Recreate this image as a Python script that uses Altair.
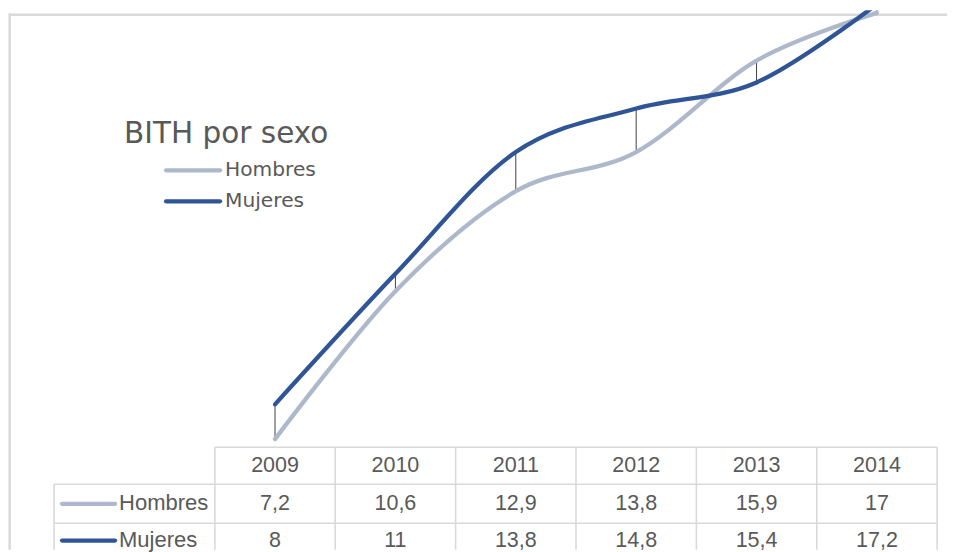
import altair as alt
import pandas as pd

# ---- data ----
years = [2009, 2010, 2011, 2012, 2013, 2014]
series = ["Hombres", "Mujeres"]
hombres = [7.2, 10.6, 12.9, 13.8, 15.9, 17]
mujeres = [8, 11, 13.8, 14.8, 15.4, 17.2]
colors = ["#ADB9CA", "#2F5597"]
title_text = "BITH por sexo"


def fmt(v):
    return f"{v:g}".replace(".", ",")


long_rows = []
for name, vals in zip(series, [hombres, mujeres]):
    for y, v in zip(years, vals):
        long_rows.append({"year": y, "serie": name, "value": v, "label": fmt(v)})
long_df = pd.DataFrame(long_rows)
wide_df = pd.DataFrame({"year": years, "Hombres": hombres, "Mujeres": mujeres})
bounds_df = pd.DataFrame({"bound": [y - 0.5 for y in years] + [years[-1] + 0.5]})
one = pd.DataFrame({"k": [0]})

# layout helpers (page coords -> chart coords, compensating page scaling)
S = 955 / 963


def px(p):
    return p / S - 8


def py(p):
    return p / S - 8


def fs(f):
    return f / S


W, H = 947, 544
GRID = "#D9D9D9"
TXT = "#595959"
TABLE_FONT = "Liberation Sans"
LEG_FONT = "DejaVu Sans"

xscale = alt.Scale(domain=[2009, 2014], range=[px(275), px(877)], nice=False, zero=False)
yscale = alt.Scale(domain=[8, 16], range=[py(402), py(54)], nice=False, zero=False)
cscale = alt.Scale(domain=series, range=colors)

# frame (left and top)
frame_top = alt.Chart(one).mark_rule(color=GRID, strokeWidth=2.5).encode(
    x=alt.value(px(9)), x2=alt.value(W), y=alt.value(py(12.3))
)
frame_left = alt.Chart(one).mark_rule(color=GRID, strokeWidth=2.5).encode(
    x=alt.value(px(9.6)), y=alt.value(py(11)), y2=alt.value(H)
)

# high-low lines
drops = alt.Chart(wide_df).mark_rule(color="#404040", strokeWidth=1, clip=True).encode(
    x=alt.X("year:Q", scale=xscale, axis=None),
    y=alt.Y("Hombres:Q", scale=yscale, axis=None),
    y2="Mujeres:Q",
)

lines = alt.Chart(long_df).mark_line(
    interpolate="cardinal", strokeWidth=4.3, strokeCap="round", clip=True
).encode(
    x=alt.X("year:Q", scale=xscale, axis=None),
    y=alt.Y("value:Q", scale=yscale, axis=None),
    color=alt.Color("serie:N", scale=cscale, legend=None),
    order=alt.Order("serie:N"),
    detail="serie:N",
)

# table grid
hlines = []
for yy, x0 in [(445, 215), (482, 54), (521, 54)]:
    hlines.append(
        alt.Chart(one).mark_rule(color=GRID, strokeWidth=1.6).encode(
            x=alt.value(px(x0)), x2=alt.value(px(937)), y=alt.value(py(yy))
        )
    )
vlines = alt.Chart(bounds_df).mark_rule(color=GRID, strokeWidth=1.6).encode(
    x=alt.X("bound:Q", scale=xscale, axis=None),
    y=alt.value(py(445)),
    y2=alt.value(H),
)
vleft = alt.Chart(one).mark_rule(color=GRID, strokeWidth=1.6).encode(
    x=alt.value(px(54)), y=alt.value(py(482)), y2=alt.value(H)
)

# table texts
header = alt.Chart(wide_df).mark_text(
    font=TABLE_FONT, fontSize=fs(21.5), color=TXT, baseline="middle", align="center"
).encode(
    x=alt.X("year:Q", scale=xscale, axis=None),
    y=alt.value(py(462.5)),
    text=alt.Text("year:N"),
)
row_y = {"Hombres": 500.5, "Mujeres": 537.3}
row_texts = []
for name in series:
    row_texts.append(
        alt.Chart(long_df[long_df.serie == name]).mark_text(
            font=TABLE_FONT, fontSize=fs(21.5), color=TXT, baseline="middle", align="center"
        ).encode(
            x=alt.X("year:Q", scale=xscale, axis=None),
            y=alt.value(py(row_y[name])),
            text="label:N",
        )
    )

# row labels with keys
row_keys = []
for name, col in zip(series, colors):
    d = pd.DataFrame({"serie": [name]})
    row_keys.append(
        alt.Chart(d).mark_rule(color=col, strokeWidth=4.3, strokeCap="round").encode(
            x=alt.value(px(62)), x2=alt.value(px(115)), y=alt.value(py(row_y[name] + 1))
        )
    )
    row_keys.append(
        alt.Chart(d).mark_text(
            font=TABLE_FONT, fontSize=fs(22), color=TXT, baseline="middle", align="left"
        ).encode(x=alt.value(px(119)), y=alt.value(py(row_y[name])), text="serie:N")
    )

# legend (top-left)
leg_y = {"Hombres": 168, "Mujeres": 199}
legend_layers = []
for name, col in zip(series, colors):
    d = pd.DataFrame({"serie": [name]})
    legend_layers.append(
        alt.Chart(d).mark_rule(color=col, strokeWidth=4.3, strokeCap="round").encode(
            x=alt.value(px(166)), x2=alt.value(px(220)), y=alt.value(py(leg_y[name]))
        )
    )
    legend_layers.append(
        alt.Chart(d).mark_text(
            font=LEG_FONT, fontSize=fs(20.2), color=TXT, baseline="middle", align="left"
        ).encode(x=alt.value(px(225)), y=alt.value(py(leg_y[name])), text="serie:N")
    )
title_layer = alt.Chart(pd.DataFrame({"t": [title_text]})).mark_text(
    font=LEG_FONT, fontSize=fs(29.5), color=TXT, baseline="middle", align="left"
).encode(x=alt.value(px(124)), y=alt.value(py(132)), text="t:N")

chart = alt.layer(
    frame_top, frame_left,
    *hlines, vlines, vleft,
    drops, lines,
    header, *row_texts, *row_keys,
    *legend_layers, title_layer,
).properties(
    width=W, height=H,
    autosize=alt.AutoSizeParams(type="none"),
    padding={"left": 0, "top": 0, "right": 0, "bottom": 0},
).configure_view(stroke=None)

chart.save("out.html", embed_options={"renderer": "svg", "actions": False})
